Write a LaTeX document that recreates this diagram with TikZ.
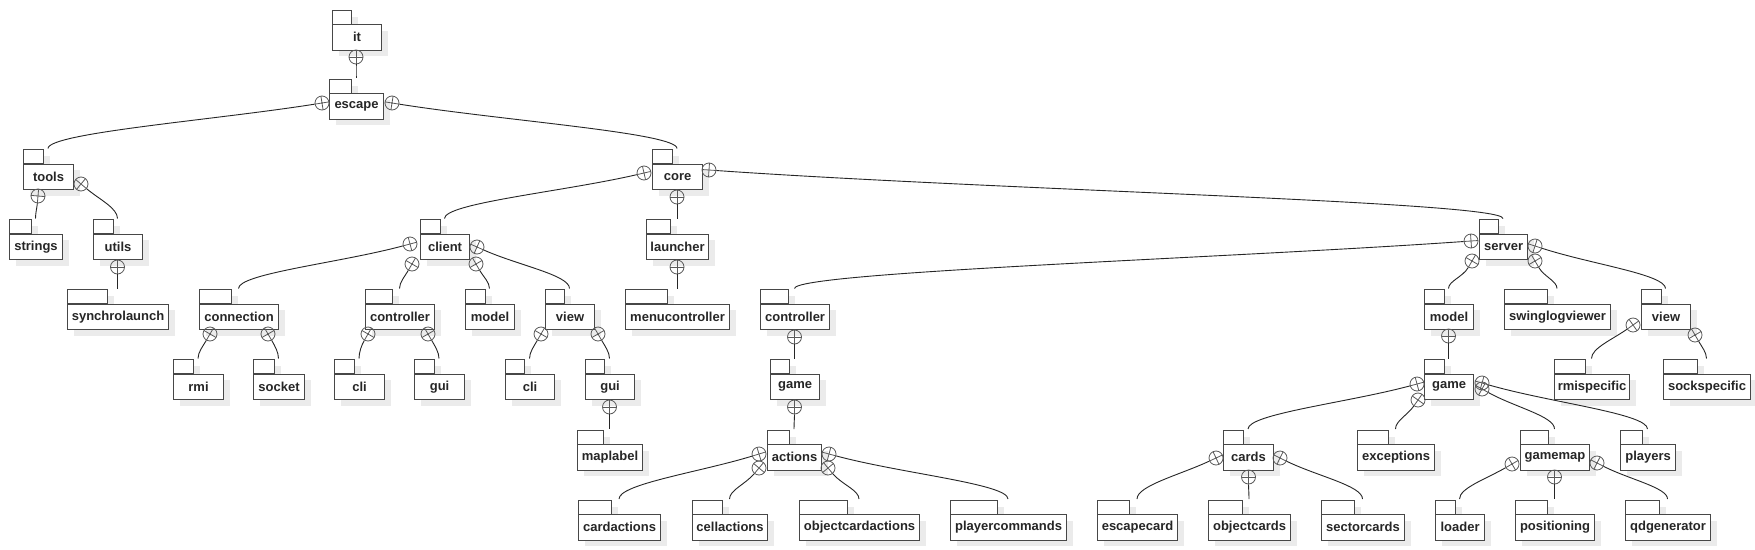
\documentclass[tikz,border=0pt]{standalone}
\usepackage{fontspec}
\setmainfont{Liberation Sans}
\usetikzlibrary{calc}
\tikzset{
  shad/.style={fill=black!8},
  tabst/.style={draw=black!72, line width=1pt, fill=white},
  pk/.style={draw=black!72, line width=1.1pt, fill=white, inner sep=0pt, minimum height=25.5,
    text=black!85, font=\bfseries\fontsize{13}{15}\selectfont},
  nestc/.style={circle, draw=black!65, line width=0.8pt, minimum size=14, inner sep=0pt},
  crossc/.style={draw=black!65, line width=0.8pt},
  conn/.style={draw=black!85, line width=0.9pt}
}
% #1 name, #2 x left, #3 x right, #4 body top (px, downwards), #5 tab right, #6 label
\newcommand\pkg[6]{%
  \fill[shad] ({#2+6.5},{-#4+14-6.5}) rectangle ({#5+6.5},{-#4-6.5});
  \fill[shad] ({#2+6.5},{-#4-6.5}) rectangle ({#3+6.5},{-#4-25.5-6.5});
  \draw[tabst] (#2,{-#4+14}) rectangle (#5,-#4);
  \node[pk, minimum width={#3-#2}, anchor=north west] (#1) at (#2,-#4) {#6};
  \coordinate (#1-t) at ({(#2+#3)/2},{-#4+15});
}
% #1 name, #2 x, #3 y, #4 direction, #5 target coordinate
\newcommand\nest[5]{%
  \node[nestc] (#1) at (#2,-#3) {};
  \draw[crossc, shift={(#1.center)}, rotate=#4] (-7,0) -- (7,0) (0,-7) -- (0,7);
  \draw[conn] let \p1=(#1.#4), \p2=(#5), \n1={abs(\x2-\x1)}, \n2={abs(\y2-\y1)} in
    (\p1) .. controls +(#4:{0.35*\n1+0.2*\n2}) and +(90:{0.35*\n2}) .. (\p2);
}
\begin{document}
\begin{tikzpicture}[x=1pt,y=1pt]
\useasboundingbox (0,0) rectangle (1755,-549);
\fill[white] (0,0) rectangle (1755,-549);

\pkg{it}{332}{381}{24}{351}{it}
\pkg{escape}{329}{383}{93}{351}{escape}
\pkg{tools}{23}{73}{163.5}{43}{tools}
\pkg{core}{652}{702}{163.5}{672}{core}
\pkg{strings}{9}{62}{233.5}{31.5}{strings}
\pkg{utils}{93}{142}{233.5}{113}{utils}
\pkg{client}{420}{469}{233.5}{440}{client}
\pkg{launcher}{646}{708}{233.5}{670}{launcher}
\pkg{server}{1479}{1527}{233.5}{1498}{server}
\pkg{synchrolaunch}{67}{168}{303.5}{107}{synchrolaunch}
\pkg{connection}{199}{278}{303.5}{231}{connection}
\pkg{cctrl}{365}{434}{303.5}{392}{controller}
\pkg{cmodel}{465}{514}{303.5}{485}{model}
\pkg{cview}{545}{594}{303.5}{564}{view}
\pkg{menucontroller}{625}{729}{303.5}{667}{menucontroller}
\pkg{sctrl}{760}{829}{303.5}{788}{controller}
\pkg{smodel}{1424}{1473}{303.5}{1444}{model}
\pkg{swing}{1504}{1610}{303.5}{1547}{swinglogviewer}
\pkg{sview}{1641}{1690}{303.5}{1661}{view}
\pkg{rmi}{173}{223}{373.5}{193}{rmi}
\pkg{socket}{253}{304}{373.5}{274}{socket}
\pkg{ccli}{334}{384}{373.5}{354}{cli}
\pkg{cgui}{414}{464}{373.5}{434}{gui}
\pkg{vcli}{505}{554}{373.5}{524}{cli}
\pkg{vgui}{585}{634}{373.5}{604}{gui}
\pkg{sgame}{770}{819}{373.5}{789}{game}
\pkg{mgame}{1424}{1473}{373.5}{1444}{game}
\pkg{rmispecific}{1554}{1629}{373.5}{1585}{rmispecific}
\pkg{sockspecific}{1663}{1750}{373.5}{1697}{sockspecific}
\pkg{maplabel}{577}{642}{444}{603}{maplabel}
\pkg{actions}{767}{821}{444}{789}{actions}
\pkg{cards}{1223}{1273}{444}{1243}{cards}
\pkg{exceptions}{1357}{1434}{444}{1388}{exceptions}
\pkg{gamemap}{1520}{1589}{444}{1548}{gamemap}
\pkg{players}{1620}{1675}{444}{1642}{players}
\pkg{cardactions}{578}{660}{514}{611}{cardactions}
\pkg{cellactions}{692}{767}{514}{722}{cellactions}
\pkg{objectcardactions}{799}{919}{514}{847}{objectcardactions}
\pkg{playercommands}{950}{1066}{514}{997}{playercommands}
\pkg{escapecard}{1097}{1177}{514}{1129}{escapecard}
\pkg{objectcards}{1208}{1290}{514}{1242}{objectcards}
\pkg{sectorcards}{1321}{1404}{514}{1354}{sectorcards}
\pkg{loader}{1435}{1484}{514}{1455}{loader}
\pkg{positioning}{1515}{1594}{514}{1547}{positioning}
\pkg{qdgenerator}{1625}{1710}{514}{1659}{qdgenerator}

\nest{cit}{356}{57}{270}{escape-t}
\nest{cescL}{322}{103}{189}{tools-t}
\nest{cescR}{392}{103}{351}{core-t}
\nest{ctoolsB}{38}{196}{265}{strings-t}
\nest{ctoolsR}{81}{184}{320}{utils-t}
\nest{cutilsB}{117.5}{267}{270}{synchrolaunch-t}
\nest{ccoreL}{644}{173}{193}{client-t}
\nest{ccoreR}{709}{170}{356}{server-t}
\nest{ccoreB}{677}{197}{270}{launcher-t}
\nest{ccliL}{410}{244}{195}{connection-t}
\nest{ccliBL}{412}{264}{240}{cctrl-t}
\nest{ccliBR}{476}{264}{300}{cmodel-t}
\nest{ccliR}{477}{247}{336}{cview-t}
\nest{claunB}{677}{267}{270}{menucontroller-t}
\nest{csrvL}{1471}{241}{184}{sctrl-t}
\nest{csrvBL}{1472}{261}{240}{smodel-t}
\nest{csrvBR}{1535}{261}{300}{swing-t}
\nest{csrvR}{1535}{246}{342}{sview-t}
\nest{cconBL}{210}{334}{240}{rmi-t}
\nest{cconBR}{268}{334}{300}{socket-t}
\nest{cctlBL}{368}{334}{240}{ccli-t}
\nest{cctlBR}{428}{334}{300}{cgui-t}
\nest{ccvBL}{541}{334}{240}{vcli-t}
\nest{ccvBR}{598}{334}{300}{vgui-t}
\nest{cvguiB}{609.5}{407}{270}{maplabel-t}
\nest{csctlB}{794.5}{337}{270}{sgame-t}
\nest{csgameB}{794.5}{407}{270}{actions-t}
\nest{cactL}{759}{454}{197}{cardactions-t}
\nest{cactBL}{759}{468}{230}{cellactions-t}
\nest{cactR}{829}{454}{345}{playercommands-t}
\nest{cactBR}{828}{468}{310}{objectcardactions-t}
\nest{csmodB}{1448.5}{336}{270}{mgame-t}
\nest{cmgL}{1417}{384}{195}{cards-t}
\nest{cmgBL}{1418}{400}{235}{exceptions-t}
\nest{cmgRA}{1482}{383}{344}{players-t}
\nest{cmgRB}{1482}{389}{331}{gamemap-t}
\nest{csvL}{1633}{325}{215}{rmispecific-t}
\nest{csvBR}{1695}{335}{300}{sockspecific-t}
\nest{ccardsL}{1216}{458}{205}{escapecard-t}
\nest{ccardsB}{1248.5}{477}{270}{objectcards-t}
\nest{ccardsR}{1280}{458}{334}{sectorcards-t}
\nest{cgmL}{1512}{464}{210}{loader-t}
\nest{cgmB}{1554.5}{477}{270}{positioning-t}
\nest{cgmR}{1597}{463}{333}{qdgenerator-t}
\end{tikzpicture}
\end{document}
